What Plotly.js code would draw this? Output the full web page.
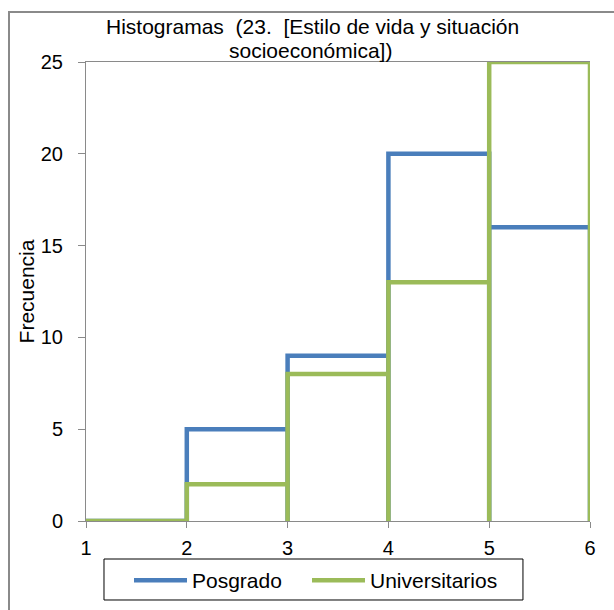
<!DOCTYPE html>
<html>
<head>
<meta charset="utf-8">
<script src="https://cdn.plot.ly/plotly-3.0.1.min.js"></script>
<style>
html,body{margin:0;padding:0;background:#fff;}
#wrap{position:relative;width:614px;height:610px;overflow:hidden;}
#chart{width:614px;height:610px;}
#frame{position:absolute;left:8px;top:11px;width:700px;height:700px;border:2px solid #8a8a8a;pointer-events:none;box-sizing:border-box;}
</style>
</head>
<body>
<div id="wrap"><div id="chart"></div><div id="frame"></div></div>
<script>
const binEdges = [1, 2, 3, 4, 5, 6];
const posgrado = [0, 5, 9, 20, 16];
const universitarios = [0, 2, 8, 13, 25];
const seriesNames = ["Posgrado", "Universitarios"];
const tickVals = [0, 5, 10, 15, 20, 25];
const titleLines = ["Histogramas&nbsp; (23.&nbsp; [Estilo de vida y situación", "socioeconómica])"];

function outline(edges, counts) {
  const xs = [], ys = [];
  for (let i = 0; i < counts.length; i++) {
    xs.push(edges[i], edges[i], edges[i + 1], edges[i + 1]);
    ys.push(0, counts[i], counts[i], 0);
  }
  return {x: xs, y: ys};
}

const p = outline(binEdges, posgrado);
const u = outline(binEdges, universitarios);

const traces = [
  {x: p.x, y: p.y, name: seriesNames[0], mode: "lines", cliponaxis: false,
   legend: "legend", line: {color: "#4A7EBB", width: 4.5}},
  {x: u.x, y: u.y, name: seriesNames[1], mode: "lines", cliponaxis: false,
   legend: "legend2", line: {color: "#9BBB59", width: 4.5}}
];

const legendBase = {orientation: "h", xref: "container", yref: "container",
  xanchor: "left", y: (610 - 560) / 610, yanchor: "top",
  borderwidth: 0, bgcolor: "rgba(0,0,0,0)", itemwidth: 53, font: {size: 21}};

const layout = {
  width: 614, height: 610,
  margin: {l: 86, r: 24, t: 62, b: 89},
  paper_bgcolor: "#fff", plot_bgcolor: "#fff",
  font: {family: "Liberation Sans, Arial, sans-serif", size: 21, color: "#000"},
  annotations: [
    {text: titleLines[0], xref: "paper", yref: "paper", x: 0.45, xanchor: "center",
     y: 1.0763, yanchor: "middle", showarrow: false, font: {size: 21, color: "#000"}},
    {text: titleLines[1], xref: "paper", yref: "paper", x: 0.445, xanchor: "center",
     y: 1.0240, yanchor: "middle", showarrow: false, font: {size: 21, color: "#000"}}
  ],
  shapes: [
    {type: "rect", xref: "paper", yref: "paper", x0: 0.0357, x1: 0.867,
     y0: -0.0828, y1: -0.1721, line: {color: "#000", width: 1}, fillcolor: "rgba(0,0,0,0)",
     layer: "below"}
  ],
  xaxis: {range: [1, 6], tickvals: binEdges, showgrid: false, zeroline: false,
          showline: true, linecolor: "#8a8a8a", linewidth: 1, mirror: true,
          ticks: "outside", ticklen: 6, tickcolor: "#8a8a8a",
          ticklabelstandoff: 3, tickfont: {size: 20}},
  yaxis: {range: [0, 25], tickvals: tickVals, showgrid: false, zeroline: false,
          showline: true, linecolor: "#8a8a8a", linewidth: 1,
          ticks: "outside", ticklen: 7, tickcolor: "#8a8a8a",
          ticklabelstandoff: 11, tickfont: {size: 20},
          title: {text: "Frecuencia", font: {size: 21}, standoff: 0}},
  showlegend: true,
  legend: Object.assign({}, legendBase, {x: 129 / 614}),
  legend2: Object.assign({}, legendBase, {x: 307 / 614})
};

Plotly.newPlot("chart", traces, layout, {displayModeBar: false, staticPlot: true});
</script>
</body>
</html>
